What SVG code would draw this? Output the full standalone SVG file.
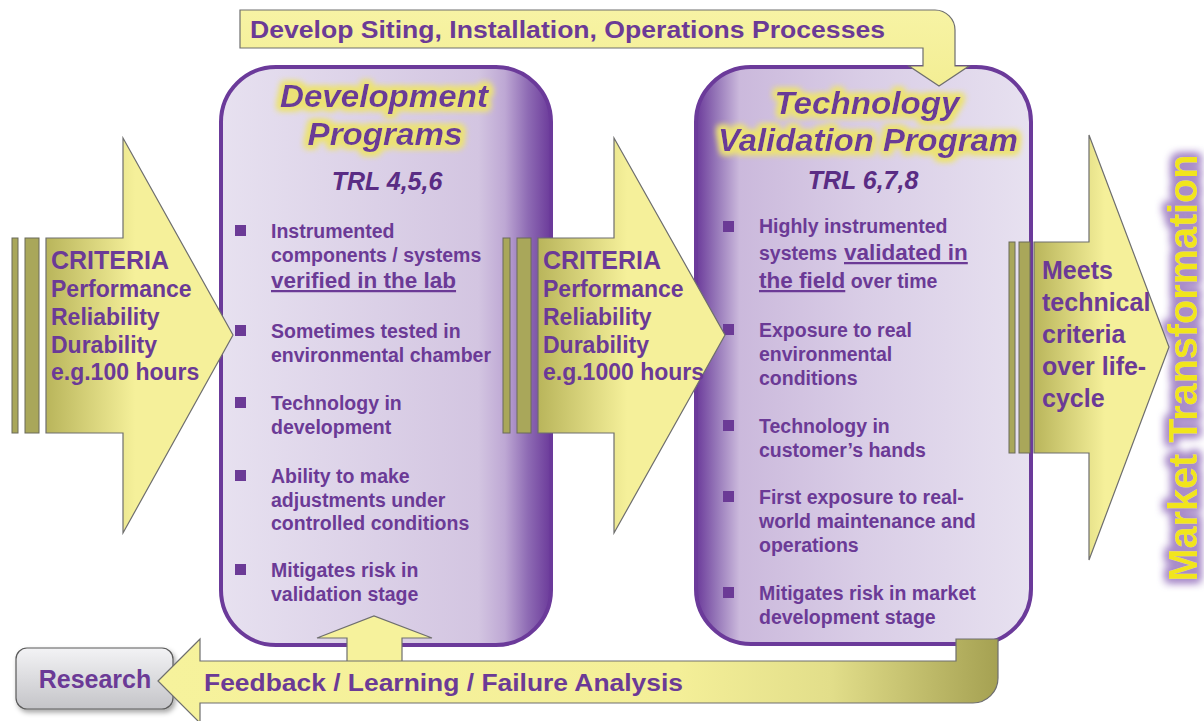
<svg xmlns="http://www.w3.org/2000/svg" width="1204" height="721" viewBox="0 0 1204 721">
<defs>
<style>
.t{font-family:"Liberation Sans",Arial,sans-serif;font-weight:bold;fill:#6b3a96}
.b{font-size:19.5px}
.u{font-size:22.5px;text-decoration:underline}
.ttl{font-size:31px;font-style:italic;text-anchor:middle}
.trl{font-size:25px;font-style:italic;fill:#5a2c84;text-anchor:middle}
.crit{font-size:23px}
.arrow{stroke:#6e6e6e;stroke-width:1.2}
.stripe{fill:#a9a75a;stroke:#6a6a5a;stroke-width:1}
.box{stroke:#6b3a9a;stroke-width:4}
.sq{fill:#6b3a96}
</style>
<linearGradient id="gDev" x1="0" y1="0" x2="1" y2="0">
<stop offset="0" stop-color="#e7e1f0"/><stop offset="0.78" stop-color="#d3c5e1"/><stop offset="0.86" stop-color="#bea8d4"/><stop offset="0.93" stop-color="#8e6bb4"/><stop offset="1" stop-color="#6b3a9a"/>
</linearGradient>
<linearGradient id="gTvp" x1="0" y1="0" x2="1" y2="0">
<stop offset="0" stop-color="#6b3a9a"/><stop offset="0.06" stop-color="#9576b8"/><stop offset="0.13" stop-color="#cbb9dc"/><stop offset="0.5" stop-color="#d9cde6"/><stop offset="1" stop-color="#e7e1f0"/>
</linearGradient>
<linearGradient id="gA1" gradientUnits="userSpaceOnUse" x1="46" y1="0" x2="135" y2="0">
<stop offset="0" stop-color="#b9b55b"/><stop offset="1" stop-color="#f5f09a"/>
</linearGradient>
<linearGradient id="gA2" gradientUnits="userSpaceOnUse" x1="538" y1="0" x2="627" y2="0">
<stop offset="0" stop-color="#b9b55b"/><stop offset="1" stop-color="#f5f09a"/>
</linearGradient>
<linearGradient id="gA3" gradientUnits="userSpaceOnUse" x1="1034" y1="0" x2="1105" y2="0">
<stop offset="0" stop-color="#b9b55b"/><stop offset="1" stop-color="#f5f09a"/>
</linearGradient>
<linearGradient id="gFb" gradientUnits="userSpaceOnUse" x1="158" y1="0" x2="998" y2="0">
<stop offset="0" stop-color="#f6f29c"/><stop offset="0.62" stop-color="#f4ef98"/><stop offset="0.8" stop-color="#e2de8a"/><stop offset="1" stop-color="#a5a152"/>
</linearGradient>
<linearGradient id="gTop" x1="0" y1="0" x2="0" y2="1">
<stop offset="0" stop-color="#f7f3a4"/><stop offset="1" stop-color="#f3ee94"/>
</linearGradient>
<linearGradient id="gRes" x1="0" y1="0" x2="0" y2="1">
<stop offset="0" stop-color="#f3f3f5"/><stop offset="1" stop-color="#c4c4c8"/>
</linearGradient>
<filter id="yglow" x="-20%" y="-50%" width="140%" height="200%">
<feMorphology in="SourceAlpha" operator="dilate" radius="2.5" result="d"/>
<feGaussianBlur in="d" stdDeviation="3" result="bl"/>
<feFlood flood-color="#ece274"/>
<feComposite in2="bl" operator="in" result="g"/>
<feMerge><feMergeNode in="g"/><feMergeNode in="g"/><feMergeNode in="SourceGraphic"/></feMerge>
</filter>
<filter id="pglow" x="-10%" y="-60%" width="120%" height="220%">
<feMorphology in="SourceAlpha" operator="dilate" radius="3" result="d"/>
<feGaussianBlur in="d" stdDeviation="4.5" result="bl"/>
<feFlood flood-color="#a98cc9"/>
<feComposite in2="bl" operator="in" result="g"/>
<feMerge><feMergeNode in="g"/><feMergeNode in="g"/><feMergeNode in="SourceGraphic"/></feMerge>
</filter>
<filter id="shadow" x="-20%" y="-20%" width="140%" height="160%">
<feDropShadow dx="2" dy="3" stdDeviation="2.5" flood-color="#000" flood-opacity="0.35"/>
</filter>
</defs>
<rect width="1204" height="721" fill="#ffffff"/>

<g id="dev-programs">
<rect class="box" x="221" y="67" width="330" height="578" rx="55" fill="url(#gDev)"/>
<g filter="url(#yglow)">
<text class="t ttl" x="384" y="107" textLength="208" lengthAdjust="spacingAndGlyphs">Development</text>
<text class="t ttl" x="385" y="145" textLength="155" lengthAdjust="spacingAndGlyphs">Programs</text>
</g>
<text class="t trl" x="387" y="190">TRL 4,5,6</text>
<rect class="sq" x="235" y="225" width="11" height="11"/>
<rect class="sq" x="235" y="325" width="11" height="11"/>
<rect class="sq" x="235" y="397" width="11" height="11"/>
<rect class="sq" x="235" y="470" width="11" height="11"/>
<rect class="sq" x="235" y="564" width="11" height="11"/>
<text class="t b" x="271" y="238">Instrumented</text>
<text class="t b" x="271" y="262">components / systems</text>
<text class="t u" x="271" y="288">verified in the lab</text>
<text class="t b" x="271" y="338">Sometimes tested in</text>
<text class="t b" x="271" y="362">environmental chamber</text>
<text class="t b" x="271" y="410">Technology in</text>
<text class="t b" x="271" y="434">development</text>
<text class="t b" x="271" y="483">Ability to make</text>
<text class="t b" x="271" y="507">adjustments under</text>
<text class="t b" x="271" y="530">controlled conditions</text>
<text class="t b" x="271" y="577">Mitigates risk in</text>
<text class="t b" x="271" y="601">validation stage</text>
</g>

<g id="tech-validation">
<rect class="box" x="696" y="67" width="335" height="577" rx="55" fill="url(#gTvp)"/>
<g filter="url(#yglow)">
<text class="t ttl" x="867" y="114" textLength="185" lengthAdjust="spacingAndGlyphs">Technology</text>
<text class="t ttl" x="868" y="151" textLength="300" lengthAdjust="spacingAndGlyphs">Validation Program</text>
</g>
<text class="t trl" x="863" y="189">TRL 6,7,8</text>
<rect class="sq" x="723" y="221" width="11" height="11"/>
<rect class="sq" x="723" y="324" width="11" height="11"/>
<rect class="sq" x="723" y="420" width="11" height="11"/>
<rect class="sq" x="723" y="491" width="11" height="11"/>
<rect class="sq" x="723" y="587" width="11" height="11"/>
<text class="t b" x="759" y="233">Highly instrumented</text>
<text class="t b" x="759" y="260">systems <tspan class="u" x="844">validated in</tspan></text>
<text class="t b" x="759" y="288"><tspan class="u">the field</tspan> over time</text>
<text class="t b" x="759" y="337">Exposure to real</text>
<text class="t b" x="759" y="361">environmental</text>
<text class="t b" x="759" y="385">conditions</text>
<text class="t b" x="759" y="433">Technology in</text>
<text class="t b" x="759" y="457">customer’s hands</text>
<text class="t b" x="759" y="504">First exposure to real-</text>
<text class="t b" x="759" y="528">world maintenance and</text>
<text class="t b" x="759" y="552">operations</text>
<text class="t b" x="759" y="600">Mitigates risk in market</text>
<text class="t b" x="759" y="624">development stage</text>
</g>

<g id="research">
<rect x="16" y="648" width="157" height="61" rx="11" fill="url(#gRes)" stroke="#5a5a5a" stroke-width="1.2" filter="url(#shadow)"/>
<text class="t" x="95" y="688" font-size="25" text-anchor="middle">Research</text>
</g>

<g id="market-transformation">
<text class="t" transform="translate(1197,368) rotate(-90)" font-size="41" text-anchor="middle" style="fill:#f1e51c" textLength="427" lengthAdjust="spacingAndGlyphs" filter="url(#pglow)">Market Transformation</text>
</g>

<g id="connectors">
<g id="criteria-1">
<rect class="stripe" x="12" y="238" width="6" height="195"/>
<rect class="stripe" x="25" y="238" width="14" height="195"/>
<polygon class="arrow" points="46,238 123,238 123,138 233,335 123,533 123,433 46,433" fill="url(#gA1)"/>
<text class="t" x="51" y="269" font-size="25">CRITERIA</text>
<text class="t crit" x="51" y="297">Performance</text>
<text class="t crit" x="51" y="325">Reliability</text>
<text class="t crit" x="51" y="353">Durability</text>
<text class="t crit" x="51" y="380">e.g.100 hours</text>
</g>
<g id="criteria-2">
<rect class="stripe" x="503" y="238" width="7" height="195"/>
<rect class="stripe" x="517" y="238" width="14" height="195"/>
<polygon class="arrow" points="538,238 614,238 614,138 725,335 614,533 614,433 538,433" fill="url(#gA2)"/>
<text class="t" x="543" y="269" font-size="25">CRITERIA</text>
<text class="t crit" x="543" y="297">Performance</text>
<text class="t crit" x="543" y="325">Reliability</text>
<text class="t crit" x="543" y="353">Durability</text>
<text class="t crit" x="543" y="380">e.g.1000 hours</text>
</g>
<g id="criteria-3">
<rect class="stripe" x="1009" y="242" width="6" height="211"/>
<rect class="stripe" x="1019" y="242" width="11" height="211"/>
<polygon class="arrow" points="1034,242 1089,242 1089,135 1169,347 1089,560 1089,453 1034,453" fill="url(#gA3)"/>
<text class="t" x="1042" y="279" font-size="25">Meets</text>
<text class="t" x="1042" y="311" font-size="25">technical</text>
<text class="t" x="1042" y="343" font-size="25">criteria</text>
<text class="t" x="1042" y="375" font-size="25">over life-</text>
<text class="t" x="1042" y="407" font-size="25">cycle</text>
</g>
<g id="develop-siting">
<path class="arrow" d="M240,10 L935,10 A20,20 0 0 1 955,30 L955,66 L969,66 L939,86 L909,66 L923,66 L923,48 L240,48 Z" fill="url(#gTop)"/>
<text class="t" x="250" y="38" font-size="23" textLength="635" lengthAdjust="spacingAndGlyphs">Develop Siting, Installation, Operations Processes</text>
</g>
<g id="feedback">
<polygon class="arrow" points="347,662 347,638 317,638 374,616 432,638 402,638 402,662" fill="#f6f29c"/>
<path class="arrow" d="M158,681 L200,639 L200,661 L956,661 L956,639 L998,639 L998,678 A25,25 0 0 1 973,703 L200,703 L200,723 Z" fill="url(#gFb)"/>
<text class="t" x="204" y="691" font-size="24" textLength="479" lengthAdjust="spacingAndGlyphs">Feedback / Learning / Failure Analysis</text>
</g>
</g>
</svg>
